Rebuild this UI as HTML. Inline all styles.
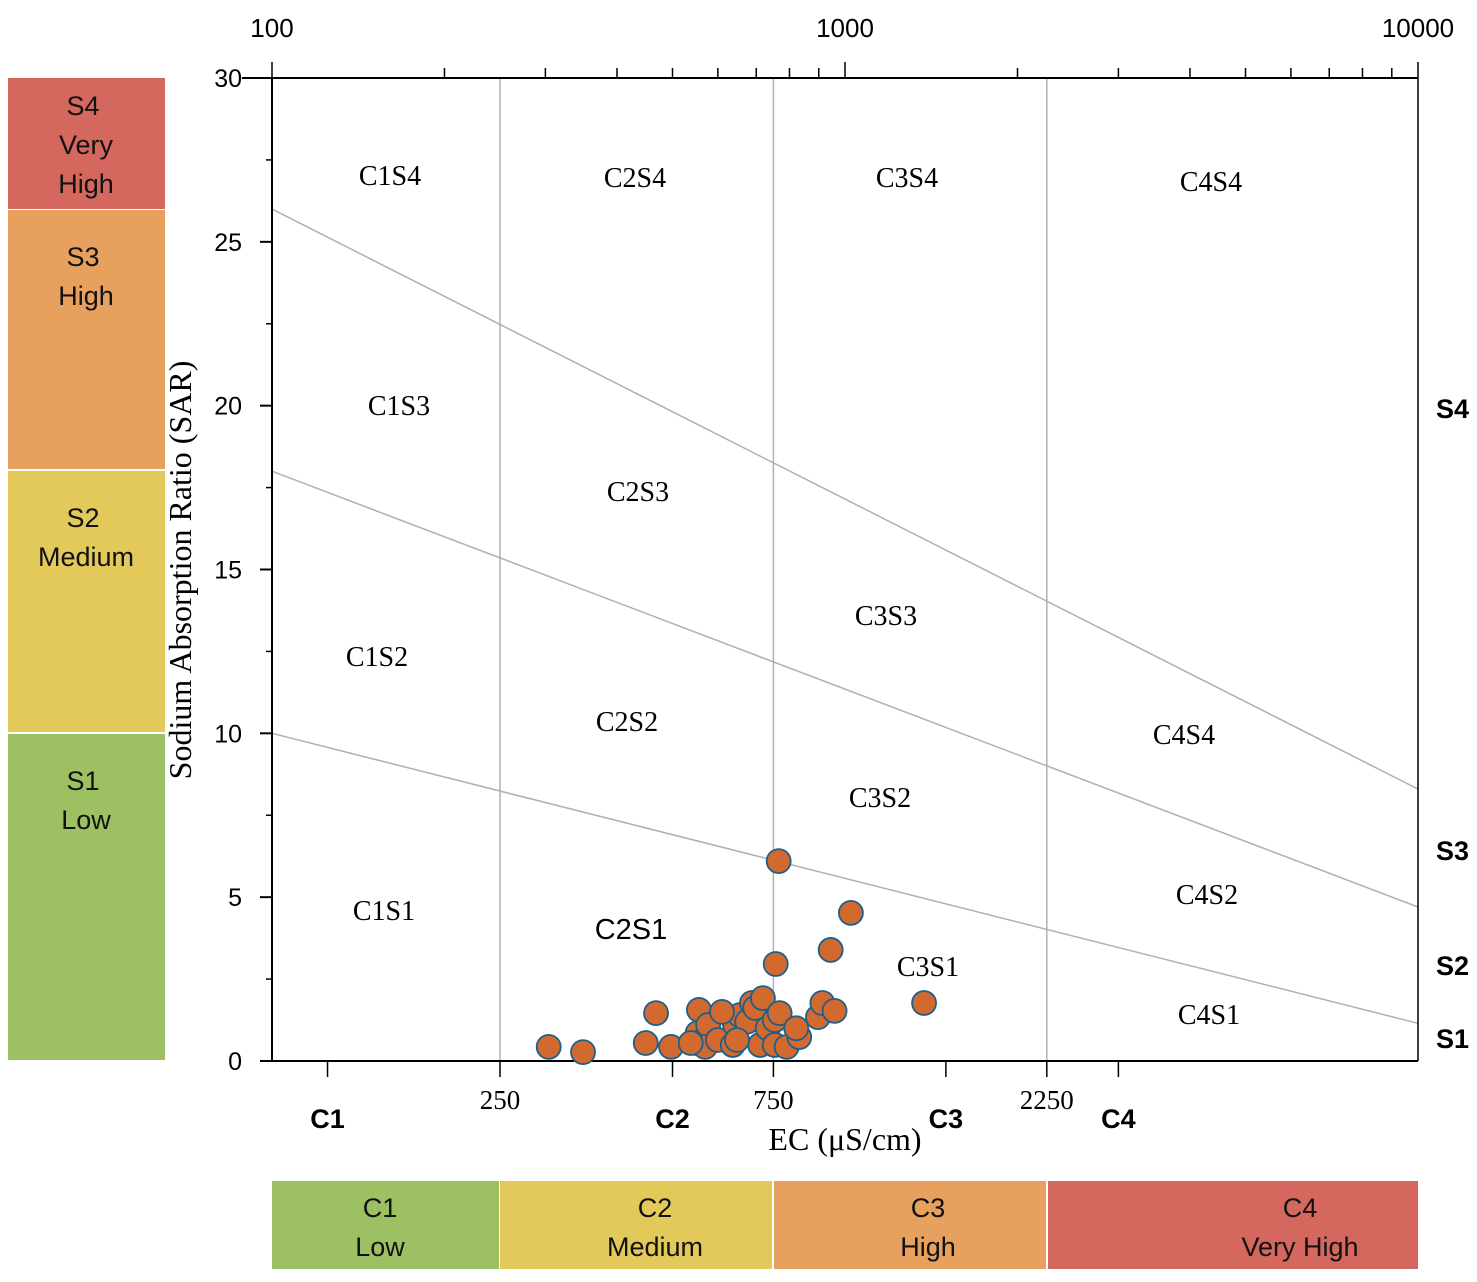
<!DOCTYPE html>
<html><head><meta charset="utf-8"><style>
body{margin:0;background:#fff;width:1477px;height:1277px;overflow:hidden}
svg text{font-family:"Liberation Sans",sans-serif}
.ser{font-family:"Liberation Serif",serif !important}
</style></head><body>
<svg id="chart" width="1477" height="1277" viewBox="0 0 1477 1277" xmlns="http://www.w3.org/2000/svg">
<g id="bg"></g><g id="grid"></g><g id="axes"></g><g id="labels"></g><g id="pts"></g>
</svg>
<script>
const ecValues=[304,349,449,468,497,556,553,549,577,570,600,637,643,655,675,688,697,719,711,648,733,754,769,754,791,832,822,897,913,959,757,766,944,1024,1374,538,610];
const sarValues=[0.43,0.27,0.55,1.46,0.43,1.56,0.85,0.55,1.1,0.43,0.64,0.49,1.1,1.4,1.2,1.77,1.62,1.92,0.49,0.64,1.0,1.25,1.46,0.49,0.43,0.73,1.0,1.34,1.77,1.53,2.96,6.1,3.39,4.52,1.77,0.55,1.5];
const yTicks=[0,5,10,15,20,25,30];
const topTicks=[100,1000,10000];
const classBounds=[250,750,2250];
const sLines=[[26,8.3],[18,4.7],[10,1.15]];
const cLabelEC=[125,500,1500,3000];
const cLabels=["C1","C2","C3","C4"];
const X0=272,X1=1418,Y0=1061,Y1=78;
const xs=v=>X0+(Math.log10(v)-2)/2*(X1-X0);
const ys=v=>Y0-v/30*(Y0-Y1);
const NS="http://www.w3.org/2000/svg";
function mk(p,t,a,txt){const e=document.createElementNS(NS,t);for(const k in a)e.setAttribute(k,a[k]);if(txt!==undefined)e.textContent=txt;document.getElementById(p).appendChild(e);return e;}
const sb=[[78,209,"#d4685e",["S4","Very","High"],37],[210,469,"#e8a05e",["S3","High"],56],[471,732,"#e3c85a",["S2","Medium"],56],[734,1060,"#9dc062",["S1","Low"],56]];
sb.forEach((b,i)=>{let r=mk("bg","rect",{x:8,y:b[0],width:157,height:b[1]-b[0],fill:b[2]});


b[3].forEach((l,j)=>{let t=mk("bg","text",{x:j==0?83:86,y:b[0]+b[4]+j*39,"font-size":27,"text-anchor":"middle",fill:"#111"},l);

});});
const cb=[[272,499,"#9dc062",["C1","Low"],380],[500,772,"#e3c85a",["C2","Medium"],655],[774,1046,"#e8a05e",["C3","High"],928],[1048,1418,"#d4685e",["C4","Very High"],1300]];
cb.forEach(b=>{let r=mk("bg","rect",{x:b[0],y:1181,width:b[1]-b[0],height:88,fill:b[2]});


b[3].forEach((l,j)=>{let t=mk("bg","text",{x:b[4],y:1217+j*39,"font-size":27,"text-anchor":"middle",fill:"#111"},l);

});});
classBounds.forEach(v=>{let l=mk("grid","line",{x1:xs(v),x2:xs(v),y1:Y1,y2:Y0,stroke:"#b0b0b0","stroke-width":1.5});

});
sLines.forEach(s=>{let l=mk("grid","line",{x1:X0,y1:ys(s[0]),x2:X1,y2:ys(s[1]),stroke:"#b0b0b0","stroke-width":1.5});

});
mk("axes","line",{x1:X0,x2:X0,y1:Y1,y2:Y0,stroke:"#000","stroke-width":2});
mk("axes","line",{x1:X0-30,x2:X1,y1:Y1,y2:Y1,stroke:"#000","stroke-width":2});
mk("axes","line",{x1:X0,x2:X1,y1:Y0,y2:Y0,stroke:"#000","stroke-width":2});
mk("axes","line",{x1:X1,x2:X1,y1:Y1,y2:Y0,stroke:"#000","stroke-width":1.5});
yTicks.forEach(v=>{mk("axes","line",{x1:X0-12,x2:X0,y1:ys(v),y2:ys(v),stroke:"#000","stroke-width":2});
let t=mk("axes","text",{x:X0-30,y:ys(v)+9,"font-size":25,"text-anchor":"end"},v);


if(v<30)mk("axes","line",{x1:X0-6,x2:X0,y1:ys(v+2.5),y2:ys(v+2.5),stroke:"#000","stroke-width":1.5});});
for(let d=100;d<10000;d*=10)for(let m=1;m<10;m++){const v=d*m;mk("axes","line",{x1:xs(v),x2:xs(v),y1:Y1,y2:Y1-(m==1?16:10),stroke:"#000","stroke-width":1.5});}
mk("axes","line",{x1:X1,x2:X1,y1:Y1,y2:Y1-16,stroke:"#000","stroke-width":1.5});
topTicks.forEach(v=>{let t=mk("axes","text",{x:xs(v),y:37,"font-size":26,"text-anchor":"middle"},v);

});
cLabelEC.forEach((v,i)=>{mk("axes","line",{x1:xs(v),x2:xs(v),y1:Y0,y2:Y0+16,stroke:"#000","stroke-width":1.5});
let t=mk("axes","text",{x:xs(v),y:1128,"font-size":27,"font-weight":"bold","text-anchor":"middle"},cLabels[i]);

});
classBounds.forEach(v=>{mk("axes","line",{x1:xs(v),x2:xs(v),y1:Y0,y2:Y0+16,stroke:"#000","stroke-width":1.5});
let t=mk("axes","text",{x:xs(v),y:1109,"font-size":27,"text-anchor":"middle",class:"ser"},v);

});
let xt=mk("axes","text",{x:845,y:1150,"font-size":32,"text-anchor":"middle",class:"ser"},"EC (μS/cm)");

let yt=mk("axes","text",{x:0,y:0,"font-size":32,"text-anchor":"middle",class:"ser",transform:"translate(191,570) rotate(-90)"},"Sodium Absorption Ratio (SAR)");

[["S4",418],["S3",860],["S2",975],["S1",1048]].forEach(s=>{let t=mk("axes","text",{x:1436,y:s[1],"font-size":27,"font-weight":"bold"},s[0]);
});
const regs=[["C1S4",390,185],["C2S4",635,187],["C3S4",907,187],["C4S4",1211,191],["C1S3",399,415],["C2S3",638,501],["C1S2",377,666],["C3S3",886,625],["C2S2",627,731],["C4S4",1184,744],["C3S2",880,807],["C1S1",384,920],["C4S2",1207,904],["C3S1",928,976],["C4S1",1209,1024]];
regs.forEach(r=>{let t=mk("labels","text",{x:r[1],y:r[2],"font-size":28,"text-anchor":"middle",class:"ser"},r[0]);
});
let c21=mk("labels","text",{x:631,y:939,"font-size":29,"text-anchor":"middle"},"C2S1");

ecValues.forEach((v,i)=>{let c=mk("pts","circle",{cx:xs(v),cy:ys(sarValues[i]),r:12,fill:"#d2692f",stroke:"#1e5f8a","stroke-width":1.8});

});
</script>
</body></html>
